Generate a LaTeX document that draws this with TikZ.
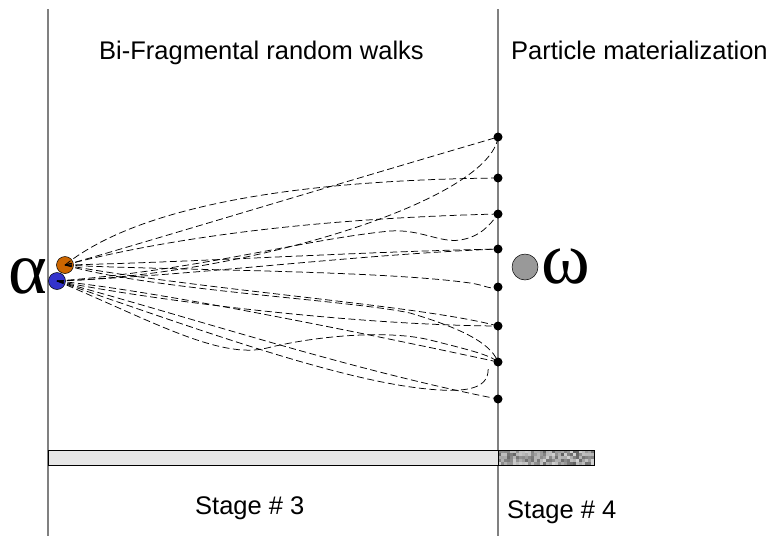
\documentclass[tikz,border=0pt]{standalone}
\usepackage{fontspec}
\setmainfont{Liberation Sans}
\newfontfamily\greekfont{Liberation Serif}
\definecolor{vline}{HTML}{808080}
\definecolor{orangeball}{HTML}{CC6600}
\definecolor{blueball}{HTML}{3333CC}
\definecolor{omegaball}{HTML}{999999}
\definecolor{barlight}{HTML}{E6E6E6}
\begin{document}
\begin{tikzpicture}[x=1pt,y=-1pt,
  divider/.style={draw=vline,line width=1.4pt},
  endpoint/.style={circle,fill=black,inner sep=0pt,minimum size=9pt},
  ball/.style={circle,draw=black,line width=0.5pt,inner sep=0pt,minimum size=17pt},
  walk/.style={draw=black,line width=0.75pt,dash pattern=on 7pt off 3.5pt},
  heading/.style={font=\fontsize{25.5}{30}\selectfont,anchor=base west,inner sep=0pt},
  greeklabel/.style={font=\greekfont\fontsize{74}{80}\selectfont,inner sep=0pt,anchor=base}]
\useasboundingbox (0,0) rectangle (776,536);
% dividers
\coordinate (L0) at (48,9);
\coordinate (L1) at (48,536);
\coordinate (R0) at (498,9);
\coordinate (R1) at (498,536);
\draw[divider] (L0) -- (L1);
\draw[divider] (R0) -- (R1);
% headings
\node[heading] (h1) at (99,59) {Bi-Fragmental random walks};
\node[heading] (h2) at (511,59) {Particle materialization};
\node[heading] (s3) at (195,514) {Stage \# 3};
\node[heading] (s4) at (507,518) {Stage \# 4};
% bar
\fill[barlight] (48,450) rectangle (498,465);
\begin{scope}
\clip (498,450) rectangle (594,465);
\pgfmathsetseed{11}
\foreach \i in {0,...,31}{
  \foreach \j in {0,...,4}{
    \pgfmathsetmacro\g{int(18+45*rnd)}
    \fill[black!\g] (498+3*\i,450+3*\j) rectangle ++(3,3);
  }
}
\end{scope}
\draw[line width=0.8pt] (48,450) rectangle (594,465);
\draw[line width=0.8pt] (498,450) -- (498,465);
% balls
\node[ball,fill=orangeball] (a) at (65,265) {};
\node[ball,fill=blueball] (b) at (57,281) {};
\node[greeklabel] (alpha) at (28,293) {α};
\node[ball,fill=omegaball,minimum size=26pt] (w) at (525,267) {};
\node[greeklabel] (omega) at (566,283) {ω};
% end points
\foreach \k/\yy in {1/137,2/178,3/214,4/249,5/287,6/326,7/362,8/399}{
  \node[endpoint] (d\k) at (498,\yy) {};
}
\coordinate (hk) at (488,366);
% walks
\draw[walk] (a.center) .. controls (120,250) and (300,195) .. (d1.center);
\draw[walk] (a.center) .. controls (140,205) and (300,180) .. (d2.center);
\draw[walk] (d1.center) .. controls (490,200) and (250,275) .. (b.center);
\draw[walk] (a.center) .. controls (180,235) and (330,218) .. (d3.center);
\draw[walk] (b.center) .. controls (200,270) and (300,240) .. (390,231)
  .. controls (420,229) and (440,243) .. (460,240)
  .. controls (480,237) and (490,225) .. (d3.center);
\draw[walk] (a.center) .. controls (200,262) and (350,252) .. (d4.center);
\draw[walk] (b.center) .. controls (200,275) and (350,255) .. (d4.center);
\draw[walk] (a.center) .. controls (150,270) and (380,270) .. (470,283)
  .. controls (485,285) and (490,290) .. (d5.center);
\draw[walk] (a.center) .. controls (200,290) and (420,305) .. (d6.center);
\draw[walk] (b.center) .. controls (150,300) and (350,325) .. (d6.center);
\draw[walk] (a.center) .. controls (150,290) and (350,300) .. (410,313)
  .. controls (450,325) and (490,340) .. (d7.center);
\draw[walk] (b.center) .. controls (150,290) and (350,330) .. (d7.center);
\draw[walk] (b.center) .. controls (150,320) and (220,360) .. (267,348)
  .. controls (320,335) and (390,330) .. (430,340)
  .. controls (470,350) and (490,355) .. (d7.center);
\draw[walk] (b.center) .. controls (200,320) and (350,370) .. (d8.center);
\draw[walk] (b.center) .. controls (200,330) and (350,385) .. (440,390)
  .. controls (475,392) and (490,385) .. (hk);
\end{tikzpicture}
\end{document}
